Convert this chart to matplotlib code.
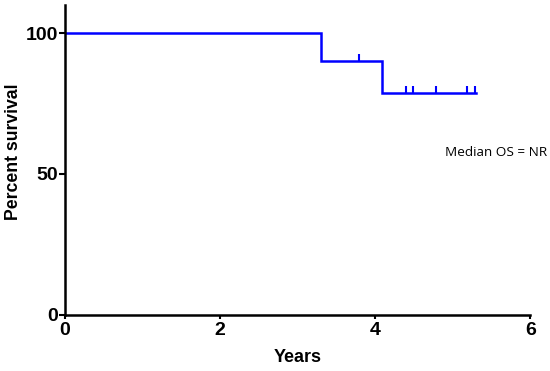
import matplotlib
matplotlib.use("Agg")
import matplotlib.pyplot as plt

plt.rcParams['font.family'] = ['Liberation Sans', 'DejaVu Sans']

# step curve
step_x = [0, 3.30, 3.30, 4.09, 4.09, 5.30]
step_y = [100, 100, 90, 90, 78.75, 78.75]
# censored observations
cens_x = [3.79, 4.40, 4.49, 4.79, 5.19, 5.29]
cens_y = [90, 78.75, 78.75, 78.75, 78.75, 78.75]

fig = plt.figure(figsize=(5.5, 3.71), dpi=100)
ax = fig.add_axes([0.118, 0.151, 0.846, 0.836])

ax.plot(step_x, step_y, color='#0000ff', lw=1.8, solid_joinstyle='miter')
ax.plot(cens_x, cens_y, linestyle='none', marker=2, color='#0000ff',
        markersize=5, markeredgewidth=1.5)

ax.set_xlim(0, 6)
ax.set_ylim(0, 110)
ax.set_xticks([0, 2, 4, 6])
ax.set_yticks([0, 50, 100])
for s in ['top', 'right']:
    ax.spines[s].set_visible(False)
for s in ['left', 'bottom']:
    ax.spines[s].set_linewidth(1.8)
ax.tick_params(axis='both', width=1.5, length=4, labelsize=14, pad=1)
ax.tick_params(axis='x', length=3, pad=2)
for lab in ax.get_xticklabels() + ax.get_yticklabels():
    lab.set_fontweight('bold')

ax.set_xlabel('Years', fontsize=13, fontweight='bold', labelpad=7)
ax.set_ylabel('Percent survival', fontsize=12.7, fontweight='bold')
ax.yaxis.set_label_coords(-0.092, 0.525)
ax.text(4.9, 57.5, 'Median OS = NR', fontsize=9.7, va='center', family='Open Sans')

fig.savefig('out.png', dpi=100)
